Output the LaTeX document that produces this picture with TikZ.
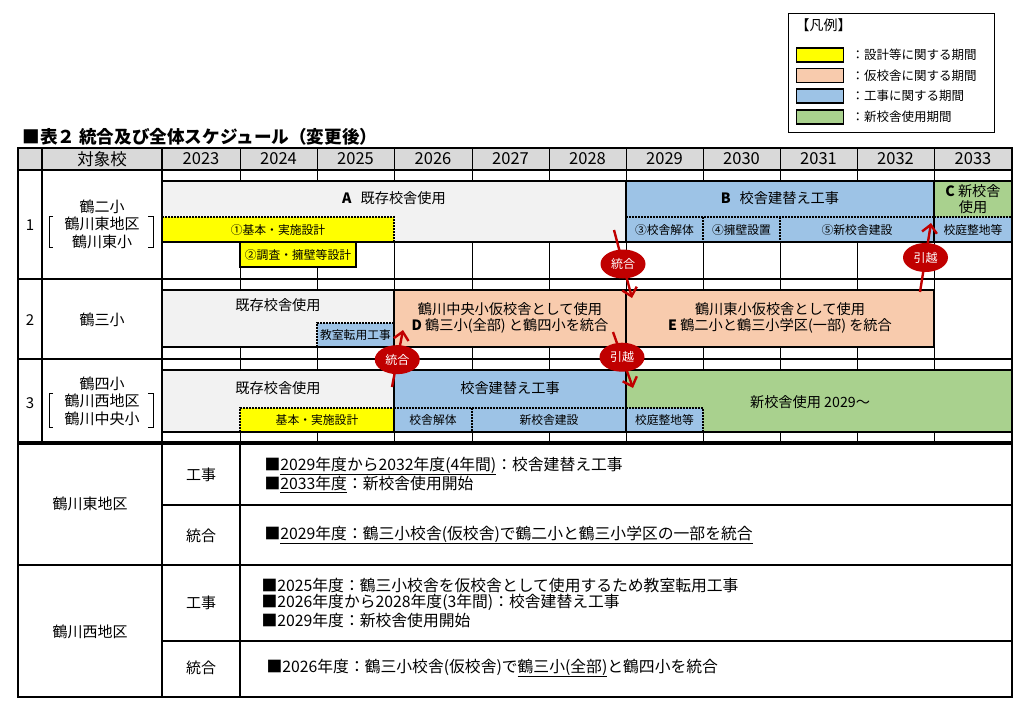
\documentclass[tikz,border=0pt]{standalone}
\usepackage{fontspec}
\setmainfont{Noto Sans CJK JP}
\usetikzlibrary{shapes.geometric,arrows.meta}
\definecolor{kizon}{HTML}{F2F2F2}
\definecolor{sekkei}{HTML}{FFFF00}
\definecolor{karikou}{HTML}{F8CBAD}
\definecolor{koji}{HTML}{9DC3E6}
\definecolor{shinkou}{HTML}{A9D18E}
\definecolor{midashi}{HTML}{D9D9D9}
\definecolor{aka}{HTML}{C00000}
\newcommand{\jsize}[2]{\fontsize{#1}{#2}\selectfont}
\tikzset{
  keisen/.style={line width=0.9pt},
  waku/.style={line width=2.4pt},
  bar/.style={line width=2pt},
  tensen/.style={line width=1.6pt,dash pattern=on 1.6pt off 1.4pt},
  nen/.style={font=\jsize{16.5}{16.5}},
  mei/.style={font=\jsize{15}{17.5},align=center},
  obi/.style={font=\jsize{14.2}{15.5},align=center},
  ko/.style={font=\jsize{11.8}{12}},
  hanrei/.style={font=\jsize{12.5}{13},anchor=west},
  bun/.style={font=\jsize{15.8}{16},anchor=west},
  mihon/.style={draw,line width=1.4pt,minimum width=47pt,minimum height=14pt,inner sep=0pt},
  bubble/.style={ellipse,fill=aka,text=white,minimum width=45pt,minimum height=29pt,inner sep=0pt,font=\jsize{12}{12}},
  yajirushi/.style={draw=aka,line width=2.4pt,-{Straight Barb[length=8pt,width=15pt]}}
}
\begin{document}
\begin{tikzpicture}[x=1pt,y=-1pt]
\useasboundingbox (0,0) rectangle (1030,715);

\draw[keisen] (788,13) rectangle (994,132);
\node[hanrei,font=\jsize{14}{14}] (hanreimidashi) at (792,25) {【凡例】};
\foreach \i/\iro/\setsumei/\yy in {1/sekkei/設計等に関する期間/55,2/karikou/仮校舎に関する期間/75.5,3/koji/工事に関する期間/96,4/shinkou/新校舎使用期間/117}{
  \node[mihon,fill=\iro] (mihon\i) at (820,\yy) {};
  \node[hanrei] (setsumei\i) at (848,\yy) {：\setsumei};
}
\node[anchor=west,font=\bfseries\jsize{17.6}{18}] (title) at (19,137) {■表２ 統合及び全体スケジュール（変更後）};

\fill[midashi] (18,148) rectangle (1012,170);
\node[nen] (taisho) at (102,159) {対象校};
\foreach \x/\nendo in {201/2023,278.5/2024,355.5/2025,433/2026,510.5/2027,587.5/2028,664.5/2029,741.5/2030,818.5/2031,895.5/2032,973/2033}{
  \node[nen] (n\nendo) at (\x,159) {\nendo};
}

\foreach \x in {240,317,394,472,549,626,703,780,857,934}{
  \draw[keisen] (\x,148) -- (\x,181);
  \draw[keisen] (\x,242) -- (\x,290);
  \draw[keisen] (\x,347) -- (\x,370);
  \draw[keisen] (\x,432) -- (\x,443);
}

\fill[kizon] (162,181) rectangle (626,242);
\fill[sekkei] (162,217) rectangle (394,242);
\draw[tensen] (162,217) -- (394,217) -- (394,242);
\draw[bar] (162,181) rectangle (626,242);
\draw[bar,fill=sekkei] (240,242) rectangle (356,267);
\fill[koji] (626,181) rectangle (934,242);
\draw[tensen] (626,217) -- (934,217) (703,217) -- (703,242) (780,217) -- (780,242);
\draw[bar] (626,181) rectangle (934,242);
\fill[shinkou] (934,181) rectangle (1012,217);
\fill[koji] (934,217) rectangle (1012,242);
\draw[tensen] (934,217) -- (1012,217);
\draw[bar] (934,181) rectangle (1012,242);

\fill[kizon] (162,290) rectangle (394,347);
\fill[koji] (317,323) rectangle (394,347);
\draw[tensen] (317,347) -- (317,323) -- (394,323);
\draw[bar] (162,290) rectangle (394,347);
\draw[bar,fill=karikou] (394,290) rectangle (626,347);
\draw[bar,fill=karikou] (626,290) rectangle (934,347);

\fill[kizon] (162,370) rectangle (394,432);
\fill[sekkei] (240,408) rectangle (394,432);
\draw[tensen] (240,432) -- (240,408) -- (394,408);
\draw[bar] (162,370) rectangle (394,432);
\fill[koji] (394,370) rectangle (626,432);
\draw[tensen] (394,408) -- (626,408) (472,408) -- (472,432);
\draw[bar] (394,370) rectangle (626,432);
\fill[shinkou] (626,370) rectangle (1012,432);
\fill[koji] (626,408) rectangle (703,432);
\draw[tensen] (626,408) -- (703,408) -- (703,432);
\draw[bar] (626,370) rectangle (1012,432);

\draw[waku] (18,148) rectangle (1012,443);
\draw[waku] (42,148) -- (42,443) (162,148) -- (162,443);
\draw[waku] (18,170) -- (1012,170) (18,279) -- (1012,279) (18,359) -- (1012,359);
\draw[line width=4pt] (18,443) -- (1012,443);

\node[mei] (no1) at (30,225) {1};
\node[mei] (kou1) at (102,224) {鶴二小\\鶴川東地区\\鶴川東小};
\draw[keisen] (53,216) -- (49,216) -- (49,247) -- (53,247) (148,216) -- (153,216) -- (153,247) -- (148,247);
\node[obi] (a) at (394,198) {\textbf{A}\hspace{9pt}既存校舎使用};
\node[ko] (s1) at (278,230) {①基本・実施設計};
\node[ko] (s2) at (298,255) {②調査・擁壁等設計};
\node[obi] (b) at (780,198) {\textbf{B}\hspace{9pt}校舎建替え工事};
\node[ko] (k3) at (664.5,230) {③校舎解体};
\node[ko] (k4) at (741.5,230) {④擁壁設置};
\node[ko] (k5) at (857,230) {⑤新校舎建設};
\node[obi] (c) at (973,199) {\textbf{C} 新校舎\\使用};
\node[ko] (kotei1) at (973,230) {校庭整地等};

\node[mei] (no2) at (30,320) {2};
\node[mei] (kou2) at (102,320) {鶴三小};
\node[obi] (kizon2) at (278,305) {既存校舎使用};
\node[ko] (tenyo) at (355.5,335) {教室転用工事};
\node[obi] (d) at (510,318) {鶴川中央小仮校舎として使用\\\textbf{D} 鶴三小(全部) と鶴四小を統合};
\node[obi] (e) at (780,318) {鶴川東小仮校舎として使用\\\textbf{E} 鶴二小と鶴三小学区(一部) を統合};

\node[mei] (no3) at (30,403) {3};
\node[mei] (kou3) at (102,401) {鶴四小\\鶴川西地区\\鶴川中央小};
\draw[keisen] (53,393) -- (49,393) -- (49,427) -- (53,427) (148,393) -- (153,393) -- (153,427) -- (148,427);
\node[obi] (kizon3) at (278,388) {既存校舎使用};
\node[ko] (s3) at (317,420) {基本・実施設計};
\node[obi] (tatekae3) at (510,388) {校舎建替え工事};
\node[ko] (kaitai3) at (433,420) {校舎解体};
\node[ko] (kensetsu3) at (549,420) {新校舎建設};
\node[obi] (shiyo3) at (810,402) {新校舎使用 2029～};
\node[ko] (kotei3) at (664.5,420) {校庭整地等};

\draw[waku] (18,443) rectangle (1012,697);
\draw[waku] (162,443) -- (162,697) (240,443) -- (240,697);
\draw[waku] (18,565) -- (1012,565) (162,505) -- (1012,505) (162,641) -- (1012,641);
\node[mei] (higashi) at (90,504) {鶴川東地区};
\node[mei] (nishi) at (90,632) {鶴川西地区};
\node[mei] (koji1) at (201,475) {工事};
\node[mei] (togo1) at (201,536) {統合};
\node[mei] (koji2) at (201,603) {工事};
\node[mei] (togo2) at (201,668) {統合};
\node[bun] (h1) at (261,466) {■\underline{2029年度から2032年度(4年間)}：校舎建替え工事};
\node[bun] (h2) at (261,484) {■\underline{2033年度}：新校舎使用開始};
\node[bun] (h3) at (261,535) {■\underline{2029年度：鶴三小校舎(仮校舎)で鶴二小と鶴三小学区の一部を統合}};
\node[bun] (w1) at (258,585) {■2025年度：鶴三小校舎を仮校舎として使用するため教室転用工事};
\node[bun] (w2) at (258,602) {■2026年度から2028年度(3年間)：校舎建替え工事};
\node[bun] (w3) at (258,620) {■2029年度：新校舎使用開始};
\node[bun] (w4) at (263,668) {■2026年度：鶴三小校舎(仮校舎)で\underline{鶴三小(全部)}と鶴四小を統合};

\coordinate (r1) at (614,230);
\coordinate (r2) at (632,298);
\draw[yajirushi] (r1) -- (r2) node[bubble,pos=.5] (togoA) {統合};
\coordinate (r3) at (920,292);
\coordinate (r4) at (931,223);
\draw[yajirushi] (r3) -- (r4) node[bubble,pos=.5] (hikkoshiA) {引越};
\coordinate (r5) at (392,387);
\coordinate (r6) at (403,330);
\draw[yajirushi] (r5) -- (r6) node[bubble,pos=.48] (togoB) {統合};
\coordinate (r7) at (613,332);
\coordinate (r8) at (633,388);
\draw[yajirushi] (r7) -- (r8) node[bubble,pos=.45] (hikkoshiB) {引越};
\end{tikzpicture}
\end{document}
